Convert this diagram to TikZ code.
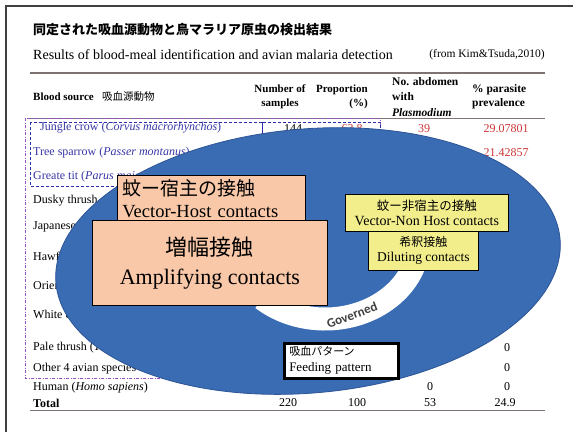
\documentclass[tikz,border=0pt]{standalone}
\usepackage{fontspec}
\setmainfont{Liberation Serif}
\newfontfamily\jp{Noto Sans CJK JP}
\newfontfamily\govfont{Carlito}
\usetikzlibrary{shapes.geometric}
\definecolor{ellfill}{RGB}{58,108,180}
\definecolor{elledge}{RGB}{45,85,150}
\definecolor{peach}{RGB}{249,200,168}
\definecolor{paleyel}{RGB}{242,238,140}
\definecolor{numred}{RGB}{205,55,55}
\definecolor{rowblue}{RGB}{55,55,165}
\definecolor{dashpurple}{RGB}{150,80,200}
\definecolor{dashblue}{RGB}{45,45,170}
\definecolor{rulegray}{RGB}{125,115,115}
\newcommand\fsz[2]{\fontsize{#1pt}{#2pt}\selectfont}
\begin{document}
\begin{tikzpicture}[x=1pt,y=-1pt,
  txt/.style={inner sep=0pt, anchor=west},
  rowtxt/.style={txt, font=\fsz{12}{14}},
  num/.style={inner sep=0pt, font=\fsz{12}{14}},
  hdr/.style={inner sep=0pt, font=\fsz{11}{14}\bfseries},
  boxpeach/.style={draw=black, line width=0.8pt, fill=peach},
  boxyel/.style={draw=black, line width=0.8pt, fill=paleyel},
  dashp/.style={dashpurple, line width=1pt, dash pattern=on 3pt off 1.5pt on 1pt off 1.5pt},
  dashb/.style={dashblue, line width=1pt, dash pattern=on 3pt off 2pt},
  rule/.style={rulegray, line width=1.3pt}]
\useasboundingbox (0,0) rectangle (573,432);
\fill[white] (0,0) rectangle (573,432);
\draw[black!75, line width=2pt] (6,432) -- (6,6) -- (573,6);

% title
\node[txt, font=\jp\bfseries\fsz{13}{15}] (title) at (33,30) {同定された吸血源動物と鳥マラリア原虫の検出結果};
\node[txt, font=\fsz{14}{16}] (sub) at (33,55) {Results of blood-meal identification and avian malaria detection};
\node[inner sep=0pt, anchor=east, font=\fsz{11.5}{13}] (src) at (545,55) {(from Kim\&Tsuda,2010)};
\draw[rule] (30,73) -- (545,73);
\draw[rule, line width=1pt] (30,118) -- (545,118);
\draw[rule, line width=1pt] (30,410) -- (545,410);

% header
\node[hdr, anchor=west] (h1) at (33,97) {Blood source};
\node[inner sep=0pt, anchor=west, font=\jp\fsz{10.5}{12}] (h1j) at (102,97) {吸血源動物};
\node[hdr, align=center] (h2) at (280,97) {Number of\\samples};
\node[hdr, align=right, anchor=east] (h3) at (368,97) {Proportion\\(\%)};
\node[hdr, align=left, anchor=west, font=\fsz{11.5}{15.5}\bfseries] (h4) at (392,97) {No. abdomen\\with\\\textit{Plasmodium}};
\node[hdr, align=left, anchor=west, font=\fsz{11.5}{14}\bfseries] (h5) at (472,97) {\% parasite\\prevalence};

% rows
\node[rowtxt, text=rowblue] (r1) at (40,128) {Jungle crow (\textit{Corvus macrorhynchos})};
\node[rowtxt, text=rowblue] (r2) at (33,153) {Tree sparrow (\textit{Passer montanus})};
\node[rowtxt, text=rowblue] (r3) at (33,177) {Greate tit (\textit{Parus major})};
\node[rowtxt] (r4) at (33,201) {Dusky thrush};
\node[rowtxt] (r5) at (33,227) {Japanese white-eye};
\node[rowtxt] (r6) at (33,256) {Hawfinch};
\node[rowtxt] (r7) at (33,285) {Oriental turtle dove};
\node[rowtxt] (r8) at (33,316) {White cheeked starling};
\node[rowtxt] (r9) at (33,348) {Pale thrush (\textit{T. pallidus})};
\node[rowtxt] (r10) at (33,369) {Other 4 avian species};
\node[rowtxt] (r11) at (33,388) {Human (\textit{Homo sapiens})};
\node[rowtxt, font=\fsz{12}{14}\bfseries] (r12) at (33,403) {Total};

% numbers
\node[num] (n1a) at (293,129) {144};
\node[num, text=numred] (n1b) at (352,129) {63.8};
\node[num, text=numred] (n1c) at (424,129) {39};
\node[num, text=numred] (n1d) at (506,129) {29.07801};
\node[num, text=numred] (n2d) at (506,153) {21.42857};
\node[num, text=numred] (n3d) at (508,179) {40};
\node[num] (n9d) at (507,348) {0};
\node[num] (n10d) at (507,368) {0};
\node[num] (n11c) at (430,387) {0};
\node[num] (n11d) at (507,387) {0};
\node[num] (t1) at (288,403) {220};
\node[num] (t2) at (357,403) {100};
\node[num] (t3) at (430,403) {53};
\node[num] (t4) at (505,403) {24.9};

% dashed boxes
\draw[dashp] (25,118) rectangle (380,378);
\draw[dashb] (30,122) rectangle (262,186);
\draw[dashb] (262,122) rectangle (380,136);

% big ellipse
\node[ellipse, draw=elledge, line width=0.8pt, fill=ellfill, minimum width=506pt, minimum height=264pt, inner sep=0pt, rotate=5] (ell) at (308,261) {};

% white band
\draw[white, line width=23pt] (325,240) ++(10:94 and 79) arc[start angle=10, end angle=132, x radius=94, y radius=79];
\node[rotate=21, inner sep=0pt, font=\govfont\bfseries\fsz{13}{15}, text=black!75] (gov) at (352,315) {Governed};

% boxes
\node[boxpeach, anchor=north west, minimum width=188pt, minimum height=47pt, text width=178pt, inner xsep=5pt, align=left, font=\fsz{18.5}{22}] (vh) at (117,175) {{\jp\fsz{19}{22}蚊ー宿主の接触}\\Vector-Host contacts};
\node[boxpeach, anchor=north west, minimum width=235pt, minimum height=85pt, align=center, font=\fsz{22}{29}] (amp) at (92,220) {{\jp 増幅接触}\\Amplifying contacts};
\node[boxyel, anchor=north west, minimum width=110pt, minimum height=40pt, inner sep=1pt, align=center, font=\fsz{13.5}{15}] (dil) at (368,230) {{\jp\fsz{12}{15}希釈接触}\\Diluting contacts};
\node[boxyel, anchor=north west, minimum width=163pt, minimum height=37pt, inner sep=1pt, align=center, font=\fsz{14}{15}] (vnh) at (345,194) {{\jp\fsz{12.5}{15}蚊ー非宿主の接触}\\Vector-Non Host contacts};
\node[draw=black, line width=2.5pt, fill=white, anchor=north west, minimum width=114pt, minimum height=35pt, text width=104pt, inner xsep=5pt, inner ysep=1pt, align=left, font=\fsz{13}{16}] (feed) at (283,342) {{\jp\fsz{11}{16}吸血パターン}\\Feeding pattern};
\end{tikzpicture}
\end{document}
